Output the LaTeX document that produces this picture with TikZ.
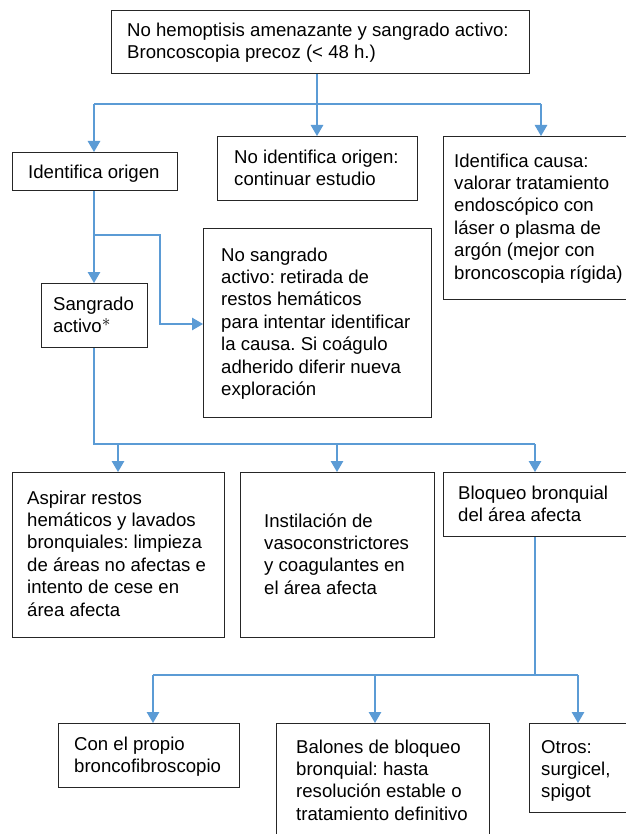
\documentclass[tikz,border=0pt]{standalone}
\usepackage{fontspec}
\setmainfont{Liberation Sans}
\usetikzlibrary{arrows.meta}
\definecolor{flow}{RGB}{91,155,213}
\frenchspacing
\begin{document}
\begin{tikzpicture}[x=1pt,y=-1pt,
  box/.style={draw=black!85, line width=1.1pt, inner sep=0pt, anchor=north west},
  txt/.style={anchor=north west, inner sep=0pt, align=left, font=\fontsize{18.6}{22.4}\selectfont},
  conn/.style={draw=flow, line width=1.2pt},
  arr/.style={conn, -{Triangle[length=11pt,width=12.5pt]}}]
\useasboundingbox[fill=white] (0,0) rectangle (625,834);
% boxes
\node[box, minimum width=418pt, minimum height=63pt] (top) at (111,10) {};
\node[box, minimum width=165pt, minimum height=38pt] (origen) at (12,152) {};
\node[box, minimum width=200pt, minimum height=64pt] (noid) at (217,136) {};
\node[box, minimum width=196pt, minimum height=163pt] (causa) at (443,136) {};
\node[box, minimum width=106pt, minimum height=64pt] (sang) at (41,283) {};
\node[box, minimum width=228pt, minimum height=189pt] (nosang) at (203,228) {};
\node[box, minimum width=212pt, minimum height=165pt] (asp) at (12,472) {};
\node[box, minimum width=194pt, minimum height=165pt] (inst) at (240,472) {};
\node[box, minimum width=185pt, minimum height=64pt] (bloq) at (443,472) {};
\node[box, minimum width=181pt, minimum height=64pt] (prop) at (58,723) {};
\node[box, minimum width=213pt, minimum height=130pt] (bal) at (276,723) {};
\node[box, minimum width=98pt, minimum height=89pt] (otros) at (529,723) {};
% texts
\node[txt] (ttop) at (127,20.3) {\strut No hemoptisis amenazante y sangrado activo:\\ Broncoscopia precoz (< 48 h.)};
\node[txt] (torigen) at (28,162.3) {\strut Identifica origen};
\node[txt] (tnoid) at (234,147.3) {\strut No identifica origen:\\ continuar estudio};
\node[txt] (tcausa) at (454,151.3) {\strut Identifica causa:\\ valorar tratamiento\\ endoscópico con\\ láser o plasma de\\ argón (mejor con\\ broncoscopia rígida)};
\node[txt] (tsang) at (53,294.3) {\strut Sangrado\\ activo\raisebox{6.3pt}{$\ast$}};
\node[txt] (tnosang) at (221,245.3) {\strut No sangrado\\ activo: retirada de\\ restos hemáticos\\ para intentar identificar\\ la causa. Si coágulo\\ adherido diferir nueva\\ exploración};
\node[txt] (tasp) at (27,488.3) {\strut Aspirar restos\\ hemáticos y lavados\\ bronquiales: limpieza\\ de áreas no afectas e\\ intento de cese en\\ área afecta};
\node[txt] (tinst) at (264,511.3) {\strut Instilación de\\ vasoconstrictores\\ y coagulantes en\\ el área afecta};
\node[txt] (tbloq) at (458,483.3) {\strut Bloqueo bronquial\\ del área afecta};
\node[txt] (tprop) at (74,734.3) {\strut Con el propio\\ broncofibroscopio};
\node[txt] (tbal) at (296,737.3) {\strut Balones de bloqueo\\ bronquial: hasta\\ resolución estable o\\ tratamiento definitivo};
\node[txt] (totros) at (541,737.3) {\strut Otros:\\ surgicel,\\ spigot};
% junction coordinates
\coordinate (j1) at (317,104);
\coordinate (j1l) at (94,104);
\coordinate (j1r) at (541,104);
\coordinate (j2) at (94,235);
\coordinate (j2r) at (160,235);
\coordinate (j3) at (94,444);
\coordinate (j3a) at (118,444);
\coordinate (j3b) at (337,444);
\coordinate (j3c) at (535,444);
\coordinate (j4) at (535,675);
\coordinate (j4a) at (153,675);
\coordinate (j4b) at (375,675);
\coordinate (j4c) at (578,675);
% connectors
\draw[conn] (top.south -| j1) -- (j1);
\draw[conn] (j1l) -- (j1r);
\draw[arr] (j1l) -- (j1l |- origen.north);
\draw[arr] (j1) -- (j1 |- noid.north);
\draw[arr] (j1r) -- (j1r |- causa.north);
\draw[arr] (origen.south -| j2) -- (j2 |- sang.north);
\draw[arr] (j2) -- (j2r) -- (j2r |- 0,324) -- (nosang.west |- 0,324);
\draw[conn] (sang.south -| j3) -- (j3) -- (j3c);
\draw[arr] (j3a) -- (j3a |- asp.north);
\draw[arr] (j3b) -- (j3b |- inst.north);
\draw[arr] (j3c) -- (j3c |- bloq.north);
\draw[conn] (bloq.south -| j4) -- (j4);
\draw[conn] (j4a) -- (j4c);
\draw[arr] (j4a) -- (j4a |- prop.north);
\draw[arr] (j4b) -- (j4b |- bal.north);
\draw[arr] (j4c) -- (j4c |- otros.north);
\end{tikzpicture}
\end{document}
